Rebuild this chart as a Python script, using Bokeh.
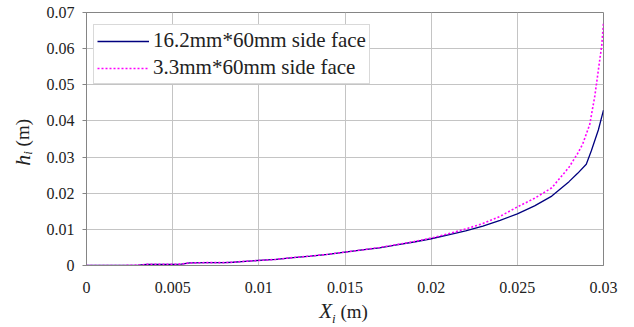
from bokeh.plotting import figure
from bokeh.models import ColumnDataSource, Range1d, FixedTicker, Legend, LegendItem, Div
from bokeh.layouts import row, column
from bokeh.embed import file_html
from bokeh.resources import INLINE

# ---- data ----
x_wide = [0, 0.001, 0.002, 0.003, 0.0035, 0.004, 0.005, 0.0055, 0.006, 0.007, 0.008, 0.0085,
          0.009, 0.010, 0.011, 0.012, 0.013, 0.014, 0.015, 0.016, 0.017, 0.018, 0.019, 0.020,
          0.021, 0.022, 0.023, 0.024, 0.025, 0.026, 0.027, 0.028, 0.0285, 0.029, 0.0293,
          0.0297, 0.030]
h_wide = [0, 0, 0, 0.0001, 0.0003, 0.0003, 0.0003, 0.0004, 0.0007, 0.0008, 0.0008, 0.0009,
          0.0011, 0.0014, 0.0017, 0.0022, 0.0026, 0.0031, 0.0037, 0.0043, 0.0049, 0.0057,
          0.0065, 0.0074, 0.0085, 0.0096, 0.0109, 0.0125, 0.0143, 0.0165, 0.0192, 0.0232,
          0.0255, 0.0280, 0.0318, 0.0375, 0.0430]

x_thin = [0, 0.001, 0.002, 0.003, 0.0035, 0.004, 0.005, 0.0055, 0.006, 0.007, 0.008, 0.0085,
          0.009, 0.010, 0.011, 0.012, 0.013, 0.014, 0.015, 0.016, 0.017, 0.018, 0.019, 0.020,
          0.021, 0.022, 0.023, 0.024, 0.025, 0.026, 0.027, 0.028, 0.0285, 0.0288, 0.0292,
          0.0295, 0.0297, 0.0299, 0.030]
h_thin = [0, 0, 0, 0.0001, 0.0003, 0.0003, 0.0003, 0.0004, 0.0007, 0.0008, 0.0008, 0.0009,
          0.0011, 0.0014, 0.0017, 0.0022, 0.0026, 0.0031, 0.0037, 0.0043, 0.0050, 0.0058,
          0.0066, 0.0076, 0.0088, 0.0101, 0.0116, 0.0136, 0.0162, 0.0186, 0.0215, 0.0272,
          0.0310, 0.0337, 0.0390, 0.0470, 0.0540, 0.0610, 0.0672]

series_names = ["16.2mm*60mm side face", "3.3mm*60mm side face"]

x_ticks = [0, 0.005, 0.01, 0.015, 0.02, 0.025, 0.03]
x_tick_labels = ["0", "0.005", "0.01", "0.015", "0.02", "0.025", "0.03"]
y_ticks = [0, 0.01, 0.02, 0.03, 0.04, 0.05, 0.06, 0.07]
y_tick_labels = ["0", "0.01", "0.02", "0.03", "0.04", "0.05", "0.06", "0.07"]

SERIF = "Liberation Serif"

p = figure(width=594, height=300, output_backend="svg", toolbar_location=None,
           x_range=Range1d(0, 0.03), y_range=Range1d(0, 0.07),
           min_border_left=46, min_border_right=31, min_border_top=12, min_border_bottom=35,
           margin=0)
p.background_fill_color = "white"
p.border_fill_color = "white"
p.outline_line_color = "#858585"
p.outline_line_width = 1

# grids
p.xgrid.grid_line_color = "#c4c4c4"
p.ygrid.grid_line_color = "#c4c4c4"

# axes
p.xaxis.ticker = FixedTicker(ticks=x_ticks)
p.yaxis.ticker = FixedTicker(ticks=y_ticks)
p.xaxis.major_label_overrides = {t: l for t, l in zip(x_ticks, x_tick_labels)}
p.yaxis.major_label_overrides = {t: l for t, l in zip(y_ticks, y_tick_labels)}
for ax in (p.xaxis[0], p.yaxis[0]):
    ax.axis_line_color = "#858585"
    ax.major_tick_line_color = "#858585"
    ax.minor_tick_line_color = None
    ax.major_label_text_font = SERIF
    ax.major_label_text_font_size = "16px"
    ax.major_label_text_color = "#222222"
    ax.major_tick_in = 0
p.xaxis.major_tick_out = 0
p.xaxis.major_label_standoff = 16
p.yaxis.major_tick_out = 4
p.yaxis.major_label_standoff = 8

src_w = ColumnDataSource(dict(x=x_wide, h=h_wide))
src_t = ColumnDataSource(dict(x=x_thin, h=h_thin))
r1 = p.line("x", "h", source=src_w, line_color="#00007f", line_width=1.3)
r2 = p.line("x", "h", source=src_t, line_color="#ff00ff", line_width=1.6, line_dash="2 2")

legend = Legend(items=[LegendItem(label=series_names[0], renderers=[r1]),
                       LegendItem(label=series_names[1], renderers=[r2])],
                location=(7, 181))
legend.label_text_font = SERIF
legend.label_text_font_size = "21px"
legend.label_text_color = "#222222"
legend.border_line_color = "#b4b4b4"
legend.border_line_width = 1
legend.background_fill_alpha = 1.0
legend.padding = 3
legend.spacing = 2
legend.glyph_width = 52
legend.glyph_height = 20
legend.label_height = 20
legend.label_standoff = 4
legend.margin = 0
p.add_layout(legend)

# axis titles as HTML text (italic symbol with italic subscript, upright unit)
font_css = "font-family:Liberation Serif, Times New Roman, serif;color:#222222;white-space:nowrap;"
y_title = Div(width=40, height=327, margin=0, styles={"font-family": "Liberation Serif"}, text=(
    '<div style="box-sizing:border-box;width:40px;padding-left:10px;height:285px;display:flex;'
    'align-items:center;justify-content:center;">'
    '<span style="writing-mode:vertical-rl;transform:rotate(180deg);font-size:19px;line-height:20px;'
    + font_css + '">'
    '<i style="font-size:22px">h</i><sub style="font-size:13px"><i>i</i></sub> (m)</span></div>'))
x_title = Div(width=594, height=27, margin=0, styles={"font-family": "Liberation Serif"}, text=(
    '<div style="box-sizing:border-box;width:594px;padding-left:13px;margin-top:1px;text-align:center;'
    'font-size:19px;line-height:20px;' + font_css + '">'
    '<i style="font-size:21px">X</i><sub style="font-size:13px"><i>i</i></sub> (m)</div>'))

layout = row(y_title, column(p, x_title, spacing=0), spacing=0)

open("out.html", "w").write(file_html(layout, INLINE))
